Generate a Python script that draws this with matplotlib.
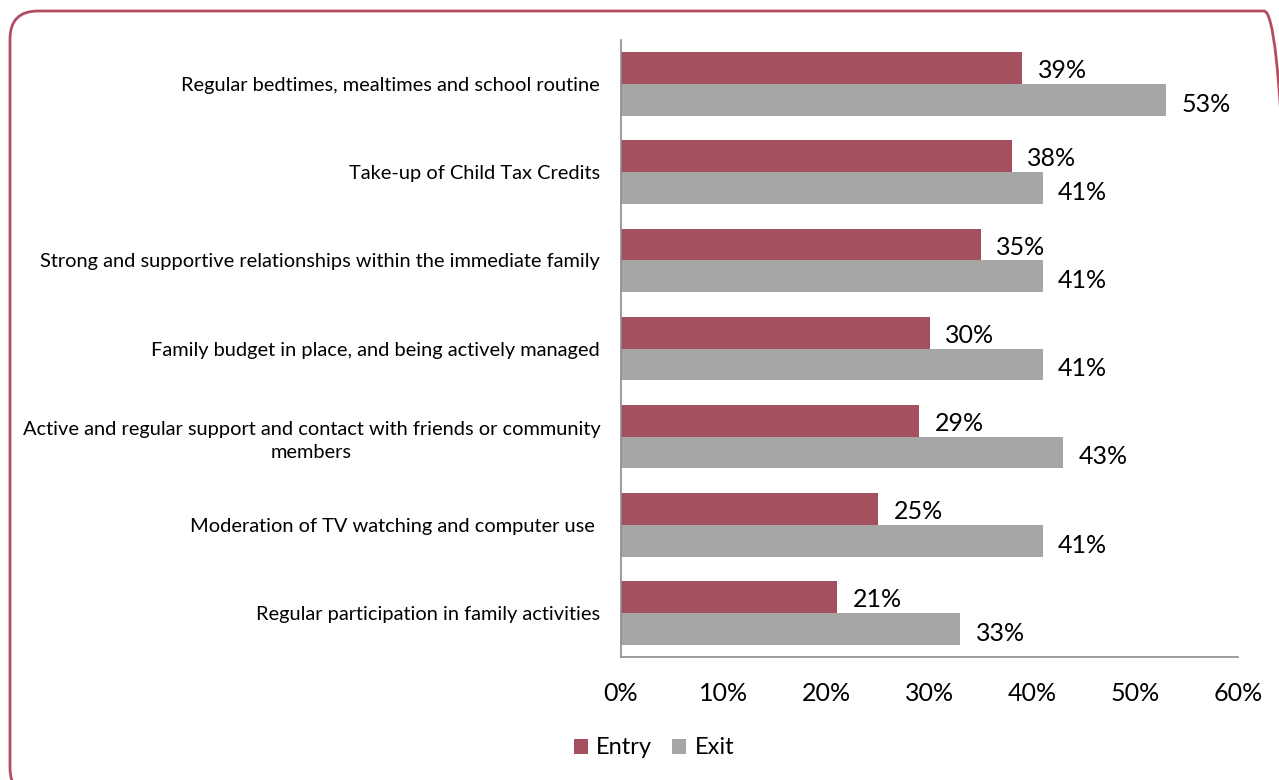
import matplotlib.pyplot as plt
import numpy as np
from matplotlib.patches import FancyBboxPatch
from matplotlib.ticker import FuncFormatter

# survey outcomes, share of families at entry and exit
categories = [
    "Regular bedtimes, mealtimes and school routine",
    "Take-up of Child Tax Credits",
    "Strong and supportive relationships within the immediate family",
    "Family budget in place, and being actively managed",
    "Active and regular support and contact with friends or community\nmembers",
    "Moderation of TV watching and computer use ",
    "Regular participation in family activities",
]
entry = [39, 38, 35, 30, 29, 25, 21]
exit_ = [53, 41, 41, 41, 43, 41, 33]

ENTRY_COLOR = "#A5505E"
EXIT_COLOR = "#A6A6A6"
FRAME_COLOR = "#B34E62"

plt.rcParams["font.family"] = ["Lato", "DejaVu Sans"]

W, H = 1279, 780
fig = plt.figure(figsize=(W / 100, H / 100), dpi=100)

# background layer in pixel units (origin bottom-left) for the rounded frame
bg = fig.add_axes([0, 0, 1, 1])
bg.set_xlim(0, W)
bg.set_ylim(0, H)
bg.axis("off")
bg.add_patch(FancyBboxPatch((10, H - 796), 1282, 785,
                            boxstyle="round,pad=0,rounding_size=28",
                            fill=False, edgecolor=FRAME_COLOR, linewidth=2,
                            clip_on=False))

ax = fig.add_axes([621 / W, 1 - 657 / H, 617 / W, 617 / H])

y = np.arange(len(categories))
h = 0.36
ax.barh(y - h / 2, entry, height=h, color=ENTRY_COLOR, label="Entry")
ax.barh(y + h / 2, exit_, height=h, color=EXIT_COLOR, label="Exit")

for yi, v in zip(y, entry):
    ax.text(v + 1.5, yi - h / 2 + 0.03, f"{v}%", va="center", ha="left", fontsize=18)
for yi, v in zip(y, exit_):
    ax.text(v + 1.5, yi + h / 2 + 0.05, f"{v}%", va="center", ha="left", fontsize=18)

ax.set_xlim(0, 60)
ax.set_xticks(range(0, 61, 10))
ax.xaxis.set_major_formatter(FuncFormatter(lambda v, _: f"{v:.0f}%"))
ax.set_ylim(len(categories) - 0.5, -0.5)
ax.set_yticks(y)
ax.set_yticklabels(categories, fontsize=14.4, multialignment="center", linespacing=1.45)

ax.tick_params(axis="x", length=0, pad=18, labelsize=18)
ax.tick_params(axis="y", length=0, pad=15)
for side in ("top", "right"):
    ax.spines[side].set_visible(False)
for side in ("left", "bottom"):
    ax.spines[side].set_color("#8C8C8C")
    ax.spines[side].set_linewidth(1.2)

fig.legend(loc="center", bbox_to_anchor=(654 / W, 1 - 748 / H), ncol=2,
           frameon=False, fontsize=17, handlelength=0.6, handleheight=0.6,
           handletextpad=0.35, columnspacing=0.85)

fig.savefig("out.png", dpi=100)
